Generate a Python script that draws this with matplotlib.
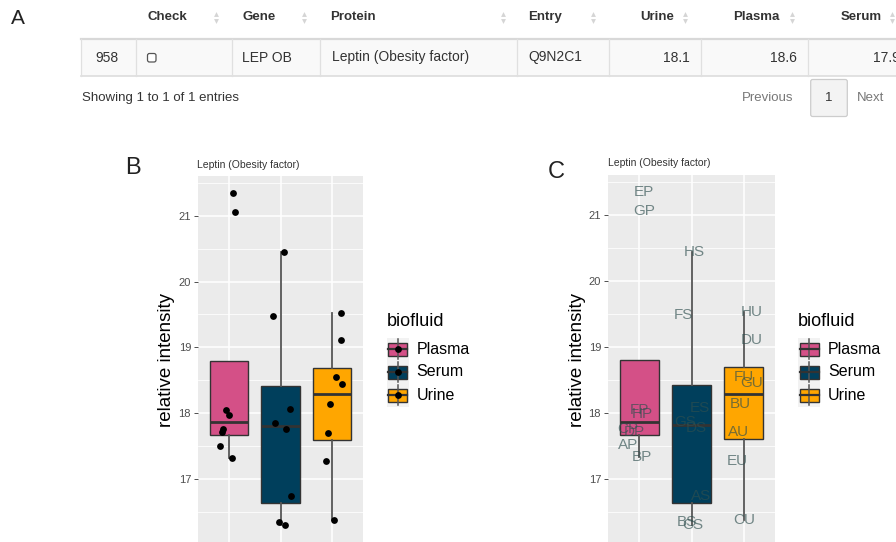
import numpy as np
import matplotlib.pyplot as plt
from matplotlib.patches import Rectangle, FancyBboxPatch

plt.rcParams['font.family'] = ['Liberation Sans', 'DejaVu Sans']

fluids = ['Plasma', 'Serum', 'Urine']
colors = ['#D45087', '#003F5C', '#FFA600']

# relative intensity of leptin per sample
plasma = np.array([21.34, 21.05, 18.05, 17.98, 17.76, 17.72, 17.51, 17.33])
serum = np.array([20.44, 19.48, 18.07, 17.86, 17.77, 16.74, 16.36, 16.31])
urine = np.array([19.53, 19.11, 18.55, 18.45, 18.14, 17.71, 17.28, 16.38])

# sample ids (panel C labels), same order as values
plasma_ids = ['EP', 'GP', 'FP', 'HP', 'CP', 'DP', 'AP', 'BP']
serum_ids = ['HS', 'FS', 'ES', 'GS', 'DS', 'AS', 'BS', 'CS']
urine_ids = ['HU', 'DU', 'FU', 'GU', 'BU', 'AU', 'EU', 'CU']

# table row
row_id = '958'
gene = 'LEP OB'
protein = 'Leptin (Obesity factor)'
entry = 'Q9N2C1'
columns = ['Check', 'Gene', 'Protein', 'Entry', 'Urine', 'Plasma', 'Serum']

# jitter used for the points (B) and the text labels (C)
jit_b = [[0.08, 0.11, -0.05, 0.0, -0.11, -0.13, -0.18, 0.05],
         [0.06, -0.15, 0.18, -0.11, 0.11, 0.21, -0.03, 0.09],
         [0.17, 0.17, 0.08, 0.19, -0.04, -0.08, -0.11, 0.04]]
jit_c = [[0.08, 0.10, 0.0, 0.05, -0.22, -0.10, -0.21, 0.05],
         [0.05, -0.16, 0.16, -0.12, 0.10, 0.18, -0.09, 0.03],
         [0.15, 0.15, 0.0, 0.15, -0.07, -0.10, -0.13, 0.02]]

groups = [plasma, serum, urine]
ids = [plasma_ids, serum_ids, urine_ids]

W, H = 896, 542
fig = plt.figure(figsize=(W / 100, H / 100), dpi=100)


def px_axes(left, top, right, bottom):
    return fig.add_axes([left / W, 1 - bottom / H, (right - left) / W, (bottom - top) / H])


def box_panel(ax):
    ax.set_facecolor('#EBEBEB')
    bp = ax.boxplot(groups, positions=[1, 2, 3], widths=0.75, patch_artist=True,
                    showfliers=False, showcaps=False, whis=1.5,
                    medianprops=dict(color='#333333', lw=2.0),
                    boxprops=dict(edgecolor='#333333', lw=1.0),
                    whiskerprops=dict(color='#555555', lw=1.3))
    for patch, c in zip(bp['boxes'], colors):
        patch.set_facecolor(c)
    ax.set_xlim(0.4, 3.6)
    ax.set_ylim(16.05, 21.6)
    ax.set_xticks([1, 2, 3])
    ax.set_xticklabels([])
    ax.set_yticks([17, 18, 19, 20, 21])
    ax.set_yticks(np.arange(16.5, 22, 1), minor=True)
    ax.grid(which='major', color='white', lw=1.1)
    ax.grid(which='minor', axis='y', color='white', lw=0.55)
    ax.set_axisbelow(True)
    for s in ax.spines.values():
        s.set_visible(False)
    ax.tick_params(axis='y', length=3, width=0.6, color='#333333', labelsize=8,
                   labelcolor='#4D4D4D', pad=2)
    ax.tick_params(axis='y', which='minor', length=0)
    ax.tick_params(axis='x', length=0, labelbottom=False)


# panel B: boxes with jittered points
axb = px_axes(198, 176, 363, 542)
box_panel(axb)
for i, vals in enumerate(groups):
    axb.scatter(i + 1 + np.array(jit_b[i]), vals, s=24, c='black', zorder=4, lw=0)

# panel C: boxes with sample labels
axc = px_axes(608, 175, 775, 542)
box_panel(axc)
for i, vals in enumerate(groups):
    for name, v, j in zip(ids[i], vals, jit_c[i]):
        axc.text(i + 1 + j, v, name, color='#2F4F4F', alpha=0.65, fontsize=11,
                 ha='center', va='center', zorder=4)

# overlay in pixel units for letters, table and legends
ov = fig.add_axes([0, 0, 1, 1], zorder=5)
ov.set_xlim(0, W)
ov.set_ylim(H, 0)
ov.axis('off')
ov.patch.set_visible(False)

ov.text(18, 19, 'A', fontsize=15, ha='center', va='center', color='#222222')
ov.text(133, 168, 'B', fontsize=17, ha='center', va='center', color='#222222')
ov.text(556.7, 171.7, 'C', fontsize=17, ha='center', va='center', color='#222222')

ov.text(197.3, 165, protein, fontsize=7.5, ha='left', va='center', color='#333333')
ov.text(608.3, 163, protein, fontsize=7.5, ha='left', va='center', color='#333333')
ov.text(166.7, 360, 'relative intensity', fontsize=13.5, rotation=90, ha='center', va='center')
ov.text(577, 360, 'relative intensity', fontsize=13.5, rotation=90, ha='center', va='center')


def legend(x0, dot):
    ov.text(x0, 321.7, 'biofluid', fontsize=13, ha='left', va='center')
    ov.add_patch(Rectangle((x0, 338), 22, 69, fc='#F2F2F2', ec='none'))
    for i, (name, c) in enumerate(zip(fluids, colors)):
        yc = 349 + 23 * i
        ov.plot([x0 + 11, x0 + 11], [yc - 10, yc + 10], color='#555555', lw=1.1)
        ov.add_patch(Rectangle((x0 + 1.5, yc - 6.5), 19, 13, fc=c, ec='#333333', lw=1.0))
        ov.plot([x0 + 1.5, x0 + 20.5], [yc, yc], color='#333333', lw=1.6)
        if dot:
            ov.scatter(x0 + 11, yc, s=24, c='black', lw=0, zorder=6)
        ov.text(x0 + 30, yc, name, fontsize=11.5, ha='left', va='center')


legend(386.7, True)
legend(798, False)

# table (panel A)
head_x = [147.3, 242.3, 330, 528.3, 674.5, 780, 882]
head_ha = ['left'] * 4 + ['right'] * 3
arrow_x = [215.7, 304.3, 502.7, 593.3, 685, 791.7, 891.7]
for name, x, ha, ax_ in zip(columns, head_x, head_ha, arrow_x):
    ov.text(x, 17, name, fontsize=9.5, fontweight='bold', ha=ha, va='center', color='#333333')
    ov.plot(ax_, 13.5, marker='^', ms=3.5, color='#D5D5D5', mec='none')
    ov.plot(ax_, 20.5, marker='v', ms=3.5, color='#D5D5D5', mec='none')

ov.add_patch(Rectangle((81, 38.5), W - 81, 37.5, fc='#F9F9F9', ec='none'))
ov.plot([81, W], [38.5, 38.5], color='#D8D8D8', lw=1.6)
ov.plot([81, W], [76, 76], color='#DDDDDD', lw=1.2)
for x in [81, 135.7, 232.3, 320, 517.3, 609.3, 700.7, 807.7]:
    ov.plot([x, x], [38.5, 76], color='#E0E0E0', lw=0.9)

means = [urine.mean(), plasma.mean(), serum.mean()]
ov.text(95, 57.5, row_id, fontsize=10, ha='left', va='center', color='#333333')
ov.add_patch(FancyBboxPatch((147.5, 53.5), 8.5, 8.5, boxstyle='round,pad=0,rounding_size=2',
                            fc='white', ec='#555555', lw=0.9))
ov.text(241.7, 57.5, gene, fontsize=10, ha='left', va='center', color='#333333')
ov.text(331.7, 57.5, protein, fontsize=10, ha='left', va='center', color='#333333')
ov.text(528.3, 57.5, entry, fontsize=10, ha='left', va='center', color='#333333')
for x, m in zip([690, 797.3, 900], means):
    ov.text(x, 57.5, f'{m:.1f}', fontsize=10, ha='right', va='center', color='#333333')

ov.text(81.7, 98, 'Showing 1 to 1 of 1 entries', fontsize=9.5, ha='left', va='center', color='#333333')
ov.text(741.7, 98, 'Previous', fontsize=9.5, ha='left', va='center', color='#777777')
ov.add_patch(FancyBboxPatch((810.7, 79.5), 36.6, 37, boxstyle='round,pad=0,rounding_size=2',
                            fc='#F3F3F3', ec='#CCCCCC', lw=0.9))
ov.text(829, 98, '1', fontsize=9.5, ha='center', va='center', color='#333333')
ov.text(856.7, 98, 'Next', fontsize=9.5, ha='left', va='center', color='#777777')

fig.savefig('out.png', dpi=100)
